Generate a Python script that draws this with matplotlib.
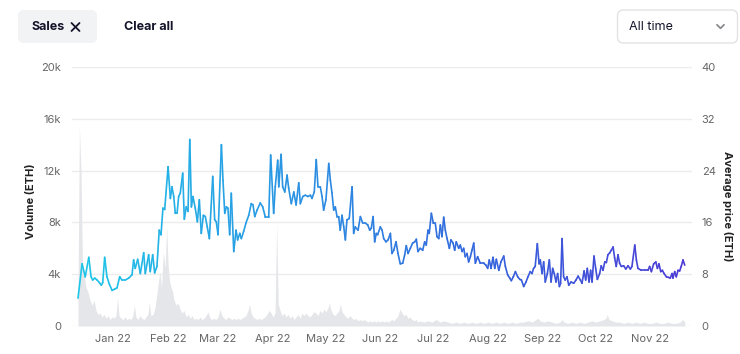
import datetime
import numpy as np
import matplotlib
matplotlib.use("Agg")
import matplotlib.pyplot as plt
import matplotlib.dates as mdates
from matplotlib.collections import LineCollection
from matplotlib.colors import LinearSegmentedColormap
from matplotlib.patches import FancyBboxPatch

plt.rcParams['font.family'] = ['Inter', 'DejaVu Sans']

# ---------------- data ----------------
start_date = datetime.datetime(2021, 12, 12)

price_day = [0.0, 2.3, 4.1, 6.1, 7.4, 8.3, 9.5, 10.8, 12.1, 13.2, 14.0, 15.1, 16.4, 17.7, 19.3, 20.8,
             22.1, 23.6, 24.9, 26.8, 28.7, 30.6, 31.5, 32.4, 33.8, 35.3, 37.2, 38.1, 40.0, 40.9, 42.3,
             43.4, 44.7, 46.0, 47.0, 48.1, 49.1, 51.0, 52.3, 53.2, 54.2, 55.1, 56.1, 57.0, 57.9, 59.3,
             60.2, 61.3, 62.3, 63.3, 64.2, 65.1, 66.4, 67.6, 68.7, 69.8, 71.0, 72.1, 73.2, 74.4, 76.3,
             77.4, 78.3, 79.3, 81.2, 82.1, 83.1, 84.0, 84.9, 85.9, 86.8, 88.2, 89.5, 90.4, 91.6, 92.5,
             93.8, 95.1, 96.7, 98.1, 99.1, 100.1, 101.4, 103.2, 104.6, 106.1, 108.0, 109.1, 110.8, 111.7,
             113.1, 113.7, 115.0, 115.9, 117.1, 118.4, 119.3, 120.8, 122.2, 123.5, 125.0, 125.9, 127.3,
             128.7, 130.2, 131.6, 132.5, 133.8, 134.9, 135.9, 137.2, 138.2, 139.1, 140.4, 142.0, 142.9,
             143.8, 144.8, 145.7, 146.7, 147.6, 148.5, 149.5, 150.5, 151.4, 152.3, 153.6, 155.2, 156.1,
             157.0, 158.6, 159.9, 161.2, 162.7, 164.1, 165.2, 166.1, 167.1, 168.0, 168.9, 169.7, 171.2,
             172.2, 173.1, 174.4, 175.6, 176.9, 177.8, 178.8, 180.1, 181.2, 182.5, 183.9, 185.0, 185.9,
             186.9, 188.2, 189.5, 190.7, 191.6, 192.5, 193.8, 195.2, 196.3, 197.2, 198.2, 198.9, 200.1,
             201.2, 202.3, 203.3, 204.3, 205.2, 206.1, 207.1, 208.0, 209.0, 210.3, 211.2, 212.4, 213.3,
             214.2, 215.6, 216.5, 217.5, 218.4, 219.3, 220.3, 221.2, 222.2, 223.1, 224.1, 225.0, 226.3,
             227.8, 229.7, 231.0, 232.0, 232.9, 233.9, 235.0, 236.0, 236.9, 238.3, 239.5, 241.1, 242.0,
             243.3, 244.5, 245.4, 246.5, 247.7, 249.0, 250.2, 251.1, 252.4, 253.7, 254.8, 256.1, 257.1,
             258.0, 258.9, 260.1, 261.1, 261.8, 262.8, 263.7, 264.6, 265.8, 266.9, 267.9, 268.8, 269.7,
             270.7, 271.6, 272.6, 273.3, 274.1, 275.0, 275.9, 276.9, 277.9, 279.2, 280.7, 282.0, 283.2,
             284.5, 285.4, 286.6, 287.5, 288.4, 289.4, 290.3, 291.1, 292.2, 293.2, 294.1, 295.4, 296.3,
             297.3, 298.3, 299.2, 300.1, 301.1, 302.0, 303.0, 303.9, 304.8, 305.8, 306.7, 307.7, 309.0,
             310.2, 311.5, 312.8, 313.7, 315.3, 316.2, 317.1, 319.0, 320.9, 322.8, 323.7, 324.7, 326.0,
             327.2, 328.1, 329.0, 330.0, 330.9, 331.9, 333.2, 334.5, 335.4, 336.4, 336.9, 337.9, 338.8,
             339.8, 340.7, 341.6, 342.6, 343.6]

avg_price = [4.3, 9.6, 7.6, 10.6, 7.6, 7.1, 7.4, 7.1, 6.7, 6.3, 6.7, 10.6, 7.6, 6.5, 5.5, 5.7,
             5.9, 7.6, 7.1, 7.1, 7.4, 7.9, 10.2, 8.9, 10.3, 8.1, 11.3, 8.1, 11.0, 8.4, 11.0,
             8.2, 9.2, 14.8, 14.1, 18.2, 18.0, 24.6, 19.7, 21.5, 20.0, 17.4, 17.4, 20.0, 20.5, 23.6,
             16.5, 18.4, 17.7, 28.8, 18.4, 20.0, 18.2, 16.1, 19.5, 14.3, 17.1, 16.9, 15.3, 13.5, 23.1,
             16.4, 16.1, 14.1, 28.0, 22.5, 17.4, 18.4, 18.2, 14.1, 20.5, 11.5, 14.8, 13.3, 14.3, 13.5,
             14.6, 15.9, 17.1, 18.9, 18.7, 16.9, 17.9, 19.0, 18.4, 16.8, 16.8, 26.4, 17.4, 21.5,
             25.6, 21.5, 26.5, 21.5, 20.7, 23.3, 21.3, 18.9, 20.7, 18.7, 22.1, 18.9, 20.0,
             20.2, 20.0, 20.2, 19.7, 20.7, 25.7, 21.5, 21.5, 20.0, 17.9, 19.5, 25.1, 22.5,
             20.6, 17.9, 18.4, 16.9, 16.9, 14.8, 17.1, 15.3, 13.3, 16.4, 16.6, 21.5, 14.3,
             15.3, 14.8, 16.9, 15.9, 15.9, 15.6, 14.8, 15.1, 16.9, 13.0, 14.3, 14.1, 15.3,
             14.8, 13.5, 13.0, 13.3, 14.3, 11.2, 11.7, 13.0, 11.2, 9.6, 9.7, 11.0, 12.4,
             11.2, 12.0, 12.8, 13.0, 13.4, 11.5, 12.0, 11.7, 13.0, 12.5, 14.8, 14.3, 17.4,
             15.9, 15.9, 13.8, 13.5, 15.6, 13.8, 16.8, 14.8, 13.5, 12.0, 13.3, 12.8, 11.7,
             13.0, 12.0, 12.5, 11.5, 12.0, 10.7, 11.2, 9.9, 10.7, 11.7, 12.8, 9.7, 10.7,
             9.7, 9.7, 9.4, 8.9, 10.2, 8.9, 10.6, 8.9, 10.3, 8.6, 9.9, 10.8, 9.2,
             7.9, 7.4, 7.0, 7.6, 8.4, 7.6, 7.2, 7.1, 6.1, 6.8, 7.6, 8.4, 8.1,
             8.9, 9.2, 12.7, 9.6, 10.2, 8.1, 9.9, 6.8, 8.1, 10.2, 6.8, 8.9, 8.1,
             6.8, 8.1, 6.1, 6.6, 13.5, 7.6, 7.1, 7.6, 6.3, 6.8, 6.6, 7.1, 7.7,
             7.1, 6.6, 8.5, 7.1, 8.9, 6.8, 8.6, 6.8, 10.8, 8.8, 7.2, 8.1, 9.3,
             8.6, 9.9, 9.8, 11.0, 11.3, 11.7, 12.2, 10.5, 9.2, 11.0, 9.7, 9.2, 9.3,
             8.8, 9.3, 8.8, 9.2, 12.5, 10.2, 8.9, 8.6, 8.6, 8.6, 9.2, 8.4, 9.6,
             9.9, 8.9, 9.6, 8.4, 8.6, 8.1, 7.6, 7.5, 7.4, 8.1, 7.4, 8.4, 7.6,
             8.6, 8.5, 9.2, 10.2, 9.4]

volume_day = [0.0, 0.8, 1.7, 2.5, 3.4, 4.5, 5.7, 6.8, 7.9, 9.1, 10.2, 11.3, 12.5, 13.6, 14.7, 15.9,
              17.0, 18.1, 19.3, 20.4, 21.5, 22.4, 23.2, 24.4, 25.5, 26.6, 27.7, 28.9, 30.0, 31.1, 31.9,
              32.8, 34.0, 35.1, 36.2, 37.4, 38.5, 39.6, 40.4, 41.3, 42.5, 43.6, 44.7, 45.6, 46.4, 47.3,
              48.3, 49.3, 50.2, 51.0, 51.8, 52.7, 53.5, 54.4, 55.5, 56.6, 57.8, 58.9, 60.0, 61.2, 62.3,
              63.4, 64.6, 65.7, 66.8, 68.0, 69.1, 70.2, 71.4, 72.5, 73.6, 74.8, 75.9, 77.0, 78.1, 79.3,
              80.4, 81.5, 82.7, 83.8, 84.9, 86.1, 87.2, 88.3, 89.5, 90.6, 91.7, 92.9, 94.0, 95.1, 96.3,
              97.1, 98.0, 99.1, 100.2, 101.4, 102.5, 103.6, 104.8, 105.9, 107.0, 108.2, 109.3, 110.4,
              111.6, 112.5, 113.4, 114.4, 115.5, 116.7, 117.8, 118.9, 120.1, 121.2, 122.3, 123.5, 124.6,
              125.7, 126.9, 128.0, 129.1, 130.2, 131.4, 132.5, 133.6, 134.8, 135.9, 137.0, 138.2, 139.3,
              140.4, 141.6, 142.3, 143.3, 144.4, 145.5, 146.7, 147.8, 148.6, 149.5, 150.6, 151.8, 152.9,
              154.0, 155.2, 156.3, 157.4, 158.6, 159.7, 160.8, 162.0, 163.1, 164.2, 165.4, 166.5, 167.6,
              168.8, 169.9, 171.0, 172.2, 173.3, 174.4, 175.6, 176.7, 177.8, 179.0, 180.1, 181.2, 182.3,
              183.5, 184.6, 185.7, 186.9, 188.0, 189.1, 190.3, 191.4, 192.5, 193.7, 195.9, 198.2, 200.5,
              202.7, 205.0, 207.3, 209.5, 211.8, 214.1, 216.3, 218.6, 220.9, 223.1, 225.4, 227.7, 229.9,
              232.2, 234.5, 236.7, 239.0, 241.2, 243.5, 245.8, 248.0, 250.3, 252.6, 254.8, 257.1, 259.4,
              260.5, 261.6, 263.9, 266.2, 268.4, 270.7, 273.0, 274.1, 275.2, 277.5, 279.8, 282.0, 284.3,
              286.6, 288.8, 291.1, 293.4, 295.6, 297.9, 299.0, 299.7, 300.7, 302.4, 304.6, 306.9, 309.2,
              311.5, 313.7, 316.0, 318.3, 320.5, 322.8, 325.1, 327.4, 329.6, 331.9, 334.2, 336.4, 338.8,
              341.0, 342.4, 343.6]

volume_k = [2.5, 15.4, 12.0, 5.0, 4.0, 3.0, 2.6, 2.0, 1.6, 2.0, 1.2, 0.9, 1.0, 0.7, 0.9, 0.6,
            0.8, 0.5, 0.7, 0.6, 0.8, 2.2, 0.8, 0.6, 0.5, 0.7, 0.5, 0.6, 0.5, 0.8, 1.6,
            0.7, 0.5, 0.8, 0.6, 0.5, 0.7, 0.9, 1.8, 0.8, 0.9, 1.4, 2.5, 3.5, 4.2, 3.0,
            5.7, 4.5, 7.7, 4.8, 3.5, 3.0, 2.7, 2.0, 1.6, 1.8, 1.3, 1.0, 1.2, 0.7, 0.9,
            0.6, 0.8, 0.5, 0.6, 0.5, 0.7, 0.5, 0.6, 0.8, 1.1, 0.6, 0.5, 0.6, 0.5, 0.7,
            1.3, 0.8, 0.6, 0.5, 0.7, 0.6, 0.5, 0.6, 0.5, 0.6, 0.5, 0.6, 0.7, 0.8, 1.2,
            1.7, 1.0, 0.7, 0.6, 0.5, 0.6, 0.5, 0.6, 0.7, 0.9, 1.2, 1.0, 0.7,
            1.0, 8.0, 1.7, 1.2, 0.8, 1.0, 0.7, 0.9, 0.6, 0.8, 0.5, 0.7, 0.9,
            0.6, 1.0, 0.8, 1.0, 0.8, 0.7, 0.9, 1.1, 1.0, 0.8, 1.2, 1.0, 1.3,
            1.1, 1.4, 1.8, 1.2, 0.9, 0.8, 1.0, 1.2, 1.7, 1.1, 0.9, 0.7, 0.6,
            0.8, 0.6, 0.5, 0.6, 0.4, 0.5, 0.4, 0.5, 0.4, 0.3, 0.4, 0.3, 0.4,
            0.3, 0.4, 0.3, 0.4, 0.3, 0.4, 0.3, 0.4, 0.5, 0.4, 0.6, 0.8, 1.3,
            1.0, 0.8, 0.9, 0.6, 0.7, 0.5, 0.4, 0.5, 0.3, 0.4, 0.3, 0.4, 0.3,
            0.5, 0.3, 0.4, 0.3, 0.2, 0.3, 0.2, 0.3, 0.2, 0.3, 0.2, 0.3, 0.2,
            0.3, 0.2, 0.3, 0.2, 0.3, 0.2, 0.3, 0.2, 0.3, 0.3, 0.4, 0.3, 0.5,
            0.6, 0.4, 0.3, 0.4, 0.3, 0.2, 0.3, 0.5, 0.3, 0.2, 0.3, 0.2, 0.3,
            0.2, 0.3, 0.4, 0.3, 0.4, 0.5, 0.6, 0.9, 0.5, 0.4, 0.3, 0.3, 0.2,
            0.3, 0.2, 0.3, 0.2, 0.3, 0.2, 0.2, 0.3, 0.2, 0.2, 0.3, 0.2, 0.2,
            0.3, 0.5, 0.3]

volume_ticks = [0, 4000, 8000, 12000, 16000, 20000]
volume_ticklabels = ['0', '4k', '8k', '12k', '16k', '20k']
price_ticks = [0, 8, 16, 24, 32, 40]

# ---------------- figure ----------------
W, H = 740, 354
fig = plt.figure(figsize=(W / 100, H / 100), dpi=100)
fig.patch.set_facecolor('white')

ax_l, ax_r, ax_t, ax_b = 72, 692, 67, 326
ax = fig.add_axes([ax_l / W, 1 - ax_b / H, (ax_r - ax_l) / W, (ax_b - ax_t) / H])
ax2 = ax.twinx()

x0 = mdates.date2num(start_date)
xv = x0 + np.array(volume_day)
vol = np.array(volume_k) * 1000
ax.fill_between(xv, 0, vol, color='#e5e6e9', linewidth=0, zorder=2)

xp = x0 + np.array(price_day)
yp = np.array(avg_price)
pts = np.column_stack([xp, yp]).reshape(-1, 1, 2)
segs = np.concatenate([pts[:-1], pts[1:]], axis=1)
cmap = LinearSegmentedColormap.from_list(
    'grad', [(0.0, '#1fc6e8'), (0.35, '#2a93e3'), (0.65, '#3367dd'), (1.0, '#4c3bd6')])
t = (xp[:-1] - xp[0]) / (xp[-1] - xp[0])
lc = LineCollection(segs, colors=cmap(t), linewidths=1.2, capstyle='round', joinstyle='round')
ax2.add_collection(lc)

xlim = (x0 - 3.4, x0 + 347.7)
ax.set_xlim(*xlim)
ax2.set_xlim(*xlim)
ax.set_ylim(0, 20000)
ax2.set_ylim(0, 40)

ax.set_yticks(volume_ticks)
ax.set_yticklabels(volume_ticklabels)
ax2.set_yticks(price_ticks)
ax2.set_yticklabels([str(v) for v in price_ticks])

ax.xaxis.set_major_locator(mdates.MonthLocator())
ax.xaxis.set_major_formatter(mdates.DateFormatter('%b %y'))

for a in (ax, ax2):
    for s in a.spines.values():
        s.set_visible(False)
ax.grid(axis='y', color='#ececec', linewidth=1.0, zorder=0)
ax.set_axisbelow(True)
tick_col = '#666666'
ax.tick_params(axis='y', length=0, pad=8, labelsize=8, labelcolor=tick_col)
ax2.tick_params(axis='y', length=0, pad=7, labelsize=8, labelcolor=tick_col)
ax.tick_params(axis='x', length=0, pad=6, labelsize=8, labelcolor=tick_col)

# axis titles placed in figure pixels
fig.text(31 / W, 1 - 201 / H, 'Volume (ETH)', fontsize=8, fontweight='bold', color='#222222',
         rotation=90, ha='center', va='center')
fig.text(727 / W, 1 - 206 / H, 'Average price (ETH)', fontsize=8, fontweight='bold', color='#222222',
         rotation=270, ha='center', va='center')

# ---------------- header controls ----------------
hx = fig.add_axes([0, 0, 1, 1], zorder=5)
hx.set_xlim(0, W)
hx.set_ylim(H, 0)
hx.axis('off')
hx.patch.set_alpha(0)

hx.add_patch(FancyBboxPatch((18, 10), 79, 33, boxstyle='round,pad=0,rounding_size=6',
                            facecolor='#f1f3f5', edgecolor='none'))
hx.text(32, 27, 'Sales', fontsize=9, fontweight='bold', color='#14142b', va='center', ha='left')
hx.plot([71.5, 79.5], [23, 31], color='#14142b', lw=1.3, solid_capstyle='round')
hx.plot([71.5, 79.5], [31, 23], color='#14142b', lw=1.3, solid_capstyle='round')
hx.text(124, 27, 'Clear all', fontsize=9, fontweight='bold', color='#14142b', va='center', ha='left')

hx.add_patch(FancyBboxPatch((617.5, 10), 120, 33, boxstyle='round,pad=0,rounding_size=6',
                            facecolor='white', edgecolor='#e3e3e6', linewidth=1.0))
hx.text(629, 27, 'All time', fontsize=9, color='#14142b', va='center', ha='left')
hx.plot([717, 720.5, 724], [24.8, 28.3, 24.8], color='#8a8a8f', lw=1.3,
        solid_capstyle='round', solid_joinstyle='round')

fig.savefig('out.png', dpi=100, facecolor='white')
